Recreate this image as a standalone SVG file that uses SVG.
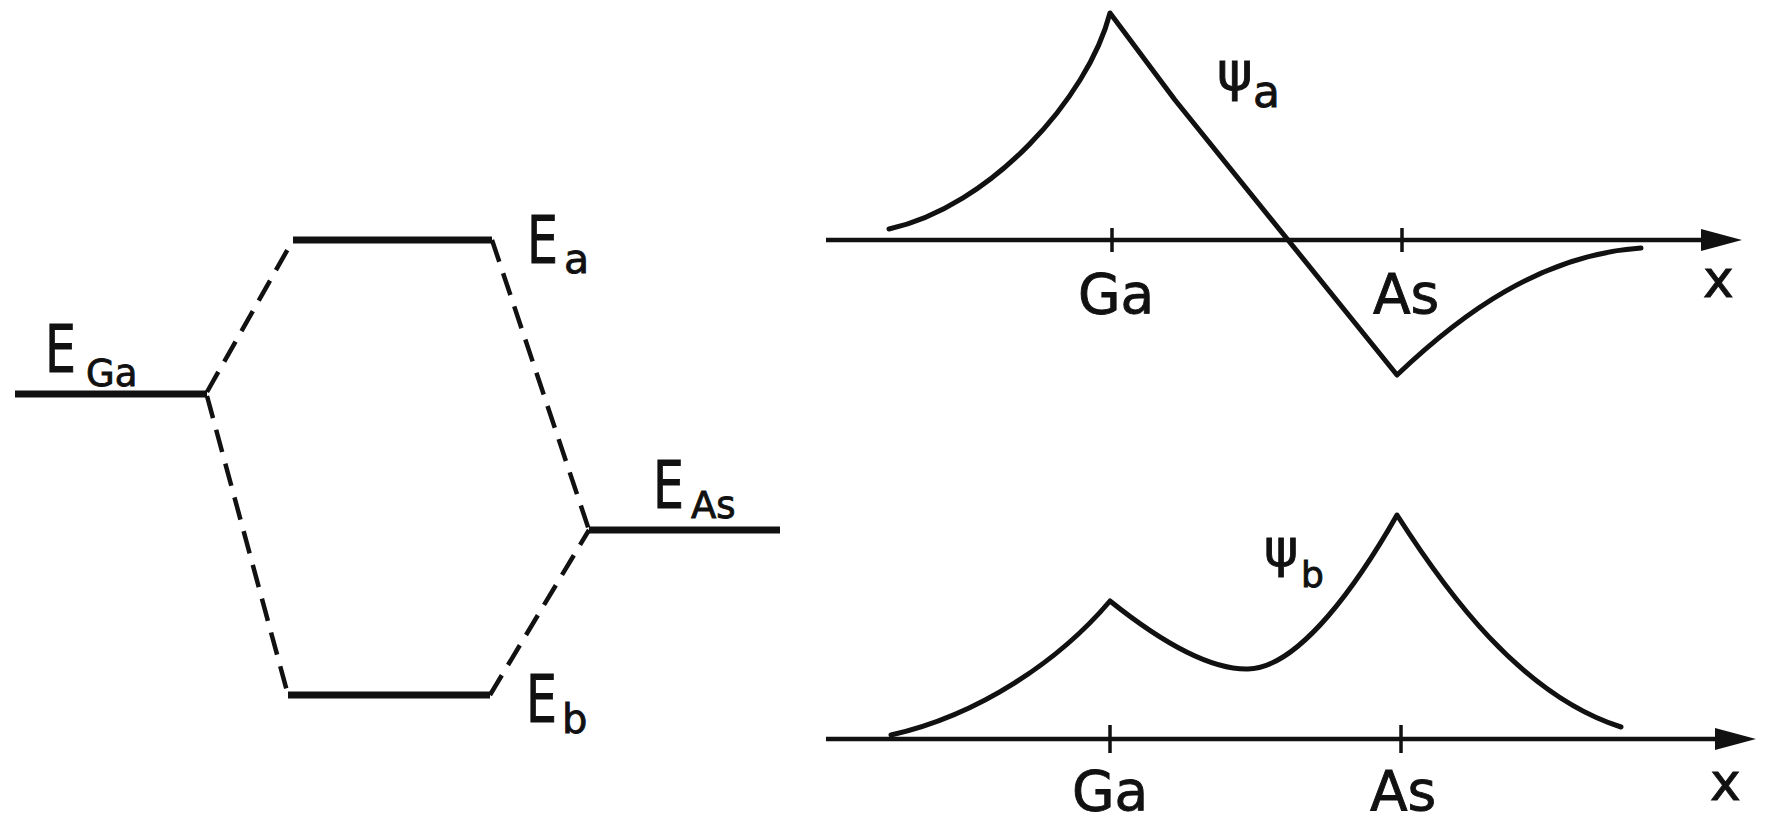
<svg xmlns="http://www.w3.org/2000/svg" width="1767" height="820" viewBox="0 0 1767 820">
<style>
.lvl{stroke:#111;stroke-width:7;fill:none;stroke-linecap:butt}
.dash{stroke:#111;stroke-width:4.5;fill:none;stroke-dasharray:23 12}
.ax{stroke:#111;stroke-width:4.5;fill:none}
.tick{stroke:#111;stroke-width:3.5}
.crv{stroke:#111;stroke-width:5;fill:none;stroke-linejoin:round;stroke-linecap:round}
text{font-family:"DejaVu Sans","Liberation Sans",sans-serif;fill:#111;stroke:#111;stroke-width:0.9}
.big{font-size:66px}
.lab{font-size:55px}
</style>
<defs>
<marker id="arr" markerUnits="userSpaceOnUse" markerWidth="42" markerHeight="24" refX="30" refY="12" orient="auto">
<path d="M0,1 L41,12 L0,23 z" fill="#111"/>
</marker>
</defs>
<rect width="1767" height="820" fill="#fff"/>

<g id="level-EGa">
<line class="lvl" x1="15" y1="394" x2="207" y2="394"/>
<text class="big" x="45" y="372" textLength="31" lengthAdjust="spacingAndGlyphs">E</text>
<text x="86" y="386" font-size="37">Ga</text>
</g>
<g id="level-Ea">
<line class="lvl" x1="293" y1="240" x2="492" y2="240"/>
<text class="big" x="527" y="263" textLength="31" lengthAdjust="spacingAndGlyphs">E</text>
<text x="564" y="273" font-size="41">a</text>
</g>
<g id="level-Eb">
<line class="lvl" x1="288" y1="695" x2="490" y2="695"/>
<text class="big" x="526" y="722" textLength="31" lengthAdjust="spacingAndGlyphs">E</text>
<text x="562" y="733" font-size="40">b</text>
</g>
<g id="level-EAs">
<line class="lvl" x1="589" y1="530" x2="780" y2="530"/>
<text class="big" x="653" y="508" textLength="31" lengthAdjust="spacingAndGlyphs">E</text>
<text x="691" y="518" font-size="37">As</text>
</g>

<g id="connectors">
<line class="dash" x1="207" y1="392" x2="293" y2="240"/>
<line class="dash" x1="207" y1="396" x2="288" y2="695"/>
<line class="dash" x1="492" y1="240" x2="589" y2="530"/>
<line class="dash" x1="490" y1="695" x2="589" y2="530"/>
</g>

<g id="plot-psi-a">
<line class="ax" x1="826" y1="240" x2="1731" y2="240" marker-end="url(#arr)"/>
<line class="tick" x1="1112" y1="228" x2="1112" y2="252"/>
<line class="tick" x1="1402" y1="228" x2="1402" y2="252"/>
<path class="crv" d="M889,229 C990,207 1088,98 1110,13 L1175,100 L1397,375 C1460,315 1540,255 1641,248"/>
<text class="lab" x="1078" y="313">Ga</text>
<text class="lab" x="1373" y="313">As</text>
<text x="1703" y="297" font-size="52">x</text>
<text x="1217" y="90" font-size="54">ψ</text>
<text x="1253" y="107" font-size="44">a</text>
</g>

<g id="plot-psi-b">
<line class="ax" x1="826" y1="739" x2="1745" y2="739" marker-end="url(#arr)"/>
<line class="tick" x1="1110" y1="725" x2="1110" y2="753"/>
<line class="tick" x1="1401" y1="725" x2="1401" y2="753"/>
<path class="crv" d="M891,735 C980,715 1060,660 1110,601 C1140,625 1200,670 1248,669 C1300,668 1360,580 1397,515 C1445,590 1520,695 1621,727"/>
<text class="lab" x="1072" y="810">Ga</text>
<text class="lab" x="1370" y="810">As</text>
<text x="1710" y="800" font-size="52">x</text>
<text x="1264" y="566" font-size="52">ψ</text>
<text x="1301" y="587" font-size="36">b</text>
</g>
</svg>
